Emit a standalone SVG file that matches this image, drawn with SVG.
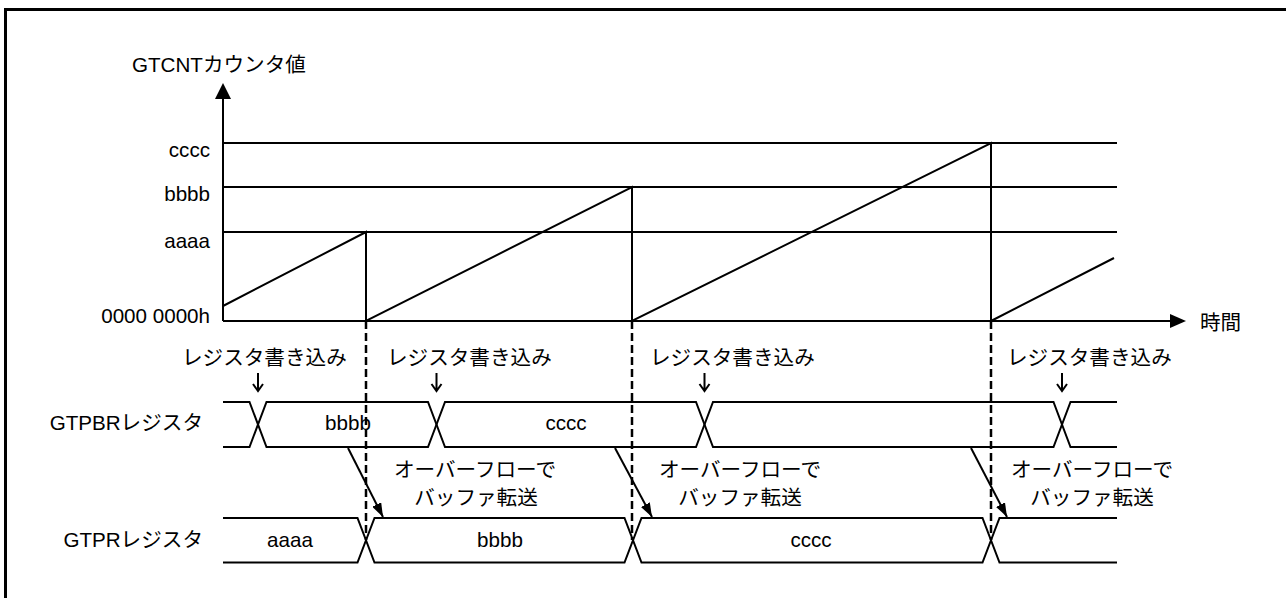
<svg xmlns="http://www.w3.org/2000/svg" width="1286" height="598" viewBox="0 0 1286 598">
<defs>
<style>
.t{font-family:"Liberation Sans","Noto Sans CJK JP",Arial,sans-serif;font-size:20.6px;fill:#000}
.m{text-anchor:middle}
.e{text-anchor:end}
.ln{fill:none;stroke:#000;stroke-width:2}
.ds{fill:none;stroke:#000;stroke-width:2.5;stroke-dasharray:8 4}
</style>
<marker id="ah" viewBox="0 0 14 10" refX="14" refY="5" markerWidth="14" markerHeight="10" markerUnits="userSpaceOnUse" orient="auto">
<path d="M0,0 L14,5 L0,10 Z" fill="#000"/>
</marker>
</defs>
<rect x="0" y="0" width="1286" height="598" fill="#fff"/>
<rect x="5.5" y="9.5" width="1300" height="620" fill="none" stroke="#000" stroke-width="3"/>

<g id="axes">
<path class="ln" d="M223,321 V98"/>
<polygon points="223,83 215,99 231,99" fill="#000"/>
<path class="ln" d="M223,321 H1170"/>
<polygon points="1186,321 1170,314 1170,328" fill="#000"/>
<text class="t" x="132" y="72">GTCNTカウンタ値</text>
<text class="t" x="1200" y="330">時間</text>
<text class="t e" x="210" y="157">cccc</text>
<text class="t e" x="210" y="201">bbbb</text>
<text class="t e" x="210" y="248">aaaa</text>
<text class="t e" x="210" y="323">0000 0000h</text>
</g>

<g id="levels">
<path class="ln" d="M223,143 H1117 M223,187 H1117 M223,232 H1117"/>
</g>

<g id="sawtooth">
<path class="ln" d="M223,306 L366,232 V321 L632,187 V321 L991,143 V321 L1114,258"/>
</g>

<g id="connectors">
<path class="ds" d="M366,321 V540 M632,321 V540 M991,321 V540"/>
<path class="ln" marker-end="url(#ah)" d="M348,448 L383,517"/>
<path class="ln" marker-end="url(#ah)" d="M615,448 L652,517"/>
<path class="ln" marker-end="url(#ah)" d="M971,448 L1007,517"/>
<path class="ln" d="M258,373 V391 M253,384 L258,391 L263,384"/>
<path class="ln" d="M436.5,373 V391 M431.5,384 L436.5,391 L441.5,384"/>
<path class="ln" d="M704.5,373 V391 M699.5,384 L704.5,391 L709.5,384"/>
<path class="ln" d="M1062,373 V391 M1057,384 L1062,391 L1067,384"/>
</g>

<g id="write-labels">
<text class="t" x="182" y="365">レジスタ書き込み</text>
<text class="t" x="387" y="365">レジスタ書き込み</text>
<text class="t" x="650" y="365">レジスタ書き込み</text>
<text class="t" x="1007" y="365">レジスタ書き込み</text>
</g>

<g id="gtpbr">
<text class="t e" x="203" y="430">GTPBRレジスタ</text>
<path class="ln" d="M223,402 H249.5 L266.5,447 H428 L445,402 H696 L713,447 H1053.5 L1070.5,402 H1117"/>
<path class="ln" d="M223,447 H249.5 L266.5,402 H428 L445,447 H696 L713,402 H1053.5 L1070.5,447 H1117"/>
<text class="t m" x="348" y="430">bbbb</text>
<text class="t m" x="566" y="430">cccc</text>
</g>

<g id="transfer-labels">
<text class="t m" x="475" y="477">オーバーフローで</text>
<text class="t m" x="476" y="505">バッファ転送</text>
<text class="t m" x="740" y="477">オーバーフローで</text>
<text class="t m" x="740" y="505">バッファ転送</text>
<text class="t m" x="1092" y="477">オーバーフローで</text>
<text class="t m" x="1092" y="505">バッファ転送</text>
</g>

<g id="gtpr">
<text class="t e" x="203" y="547">GTPRレジスタ</text>
<path class="ln" d="M223,518 H357.5 L374.5,562.5 H624.5 L641.5,518 H982.5 L999.5,562.5 H1117"/>
<path class="ln" d="M223,562.5 H357.5 L374.5,518 H624.5 L641.5,562.5 H982.5 L999.5,518 H1117"/>
<text class="t m" x="290" y="547">aaaa</text>
<text class="t m" x="500" y="547">bbbb</text>
<text class="t m" x="811" y="547">cccc</text>
</g>
</svg>
